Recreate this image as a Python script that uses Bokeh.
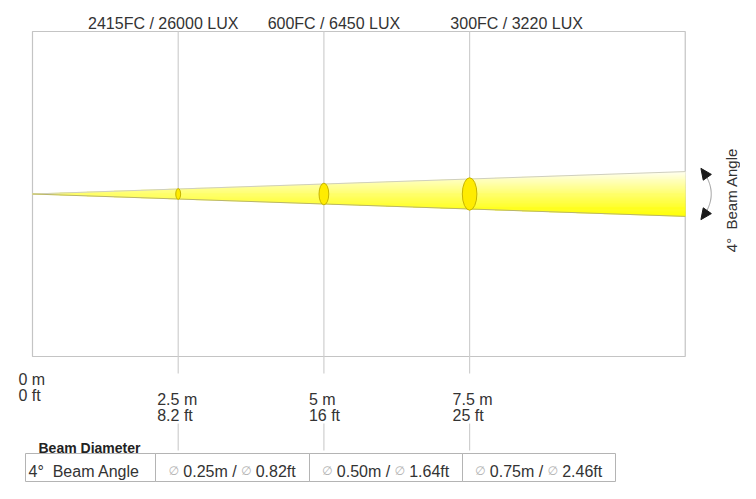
import math
import numpy as np
from bokeh.plotting import figure
from bokeh.models import Range1d
from bokeh.core.properties import value
from bokeh.embed import file_html
from bokeh.resources import INLINE

# ---------------- data ----------------
distances_m = [2.5, 5.0, 7.5]
label_dist = [0.0, 2.5, 5.0, 7.5]
labels_m = ["0 m", "2.5 m", "5 m", "7.5 m"]
labels_ft = ["0 ft", "8.2 ft", "16 ft", "25 ft"]
illuminance = ["2415FC / 26000 LUX", "600FC / 6450 LUX", "300FC / 3220 LUX"]
diam_m = [0.25, 0.50, 0.75]
diam_ft = [0.82, 1.64, 2.46]
beam_angle_deg = 4
max_dist = 11.2

# ---------------- layout (pixels) ----------------
W, H = 740, 483
X0, SX = 32.0, 58.28     # px of 0 m, px per metre (x)
Y0, SY = 193.5, 40.0     # px of beam axis, px per metre (y)
FONT = value("Liberation Sans")
TXT = "#333333"
NB = "\u00a0"


def dx(px):
    return (px - X0) / SX


def dy(py):
    return (Y0 - py) / SY


def xpx(d):
    return X0 + d * SX


p = figure(width=W, height=H, x_range=Range1d(dx(0), dx(W)), y_range=Range1d(dy(H), dy(0)),
           output_backend="svg", toolbar_location=None, min_border=0,
           x_axis_location=None, y_axis_location=None)
p.grid.visible = False
p.outline_line_color = None
p.background_fill_color = "white"
p.border_fill_color = "white"

# ---- chart box ----
box_top, box_bot = dy(31), dy(356)
p.quad(left=[0], right=[max_dist], top=[box_top], bottom=[box_bot],
       fill_color=None, line_color="#c4c4c4", line_width=1.2)

# ---- distance lines ----
p.segment(x0=distances_m, y0=[box_bot] * 3, x1=distances_m, y1=[box_top] * 3,
          line_color="#cfcfcf", line_width=1.2)
p.segment(x0=distances_m, y0=[dy(356)] * 3, x1=distances_m, y1=[dy(373)] * 3,
          line_color="#cfcfcf", line_width=1.2)
p.segment(x0=distances_m, y0=[dy(423)] * 3, x1=distances_m, y1=[dy(450)] * 3,
          line_color="#cfcfcf", line_width=1.2)

# ---- beam with vertical gradient ----
ratio = diam_m[-1] / distances_m[-1]
half = ratio * max_dist / 2.0
N = 48
edges = np.linspace(-half, half, N + 1)
bx, by, bc = [], [], []


def xe(y):
    return abs(y) / half * max_dist


for i in range(N):
    y0, y1 = edges[i], edges[i + 1]
    if y0 < 0 < y1:
        px_ = [xe(y0), max_dist, max_dist, xe(y1), 0.0]
        py_ = [y0, y0, y1, y1, 0.0]
    else:
        px_ = [xe(y0), max_dist, max_dist, xe(y1)]
        py_ = [y0, y0, y1, y1]
    t = (0.5 * (y0 + y1) + half) / (2 * half)
    b = int(round(240 * t ** 1.2))
    bx.append(px_)
    by.append(py_)
    bc.append(f"#ffff{b:02x}")
p.patches(xs=bx, ys=by, fill_color=bc, line_color=bc, line_width=0.6)
p.line([0, max_dist], [0, half], line_color="#cfcfbf", line_width=1)
p.line([0, max_dist], [0, -half], line_color="#b9b56e", line_width=1)

# ---- beam cross-section ellipses ----
p.ellipse(x=distances_m, y=[0] * 3, width=[d / 3.0 for d in diam_m],
          height=[d * 1.08 for d in diam_m], fill_color="#ffec00",
          line_color="#c7b400", line_width=1)

# ---- beam angle arrow ----
end_px = xpx(max_dist) + 18
bulge = 8
ts = np.linspace(-1, 1, 50)
arc_px = end_px + bulge * (1 - ts ** 2)
arc_py = Y0 - ts * half * SY
p.line([dx(v) for v in arc_px], [dy(v) for v in arc_py], line_color="#9a9a9a", line_width=1)
heads_x, heads_y = [], []
for tt in (1.0, -1.0):
    ex, ey = end_px, Y0 - tt * half * SY
    ux, uy = (-2 * bulge, -half * SY) if tt > 0 else (-2 * bulge, half * SY)
    n = math.hypot(ux, uy)
    ux, uy = ux / n, uy / n
    nx, ny = -uy, ux
    tip = (ex + ux * 4, ey + uy * 4)
    bc_ = (ex - ux * 7, ey - uy * 7)
    pts = [tip, (bc_[0] + nx * 5, bc_[1] + ny * 5), (bc_[0] - nx * 5, bc_[1] - ny * 5)]
    heads_x.append([dx(a) for a, _ in pts])
    heads_y.append([dy(b_) for _, b_ in pts])
p.patches(xs=heads_x, ys=heads_y, fill_color="#1a1a1a", line_color="#1a1a1a")

p.text(x=[dx(731)], y=[dy(199.5)], text=[f"{beam_angle_deg}°{NB} Beam Angle"],
       angle=math.pi / 2, text_align="center", text_baseline="middle", text_font=FONT,
       text_font_size="15px", text_color=TXT)

# ---- illuminance labels (top) ----
top_off = [-15, 10, 47]
p.text(x=[dx(xpx(d) + o) for d, o in zip(distances_m, top_off)], y=[dy(22.5)] * 3,
       text=illuminance, text_align="center", text_baseline="alphabetic",
       text_font=FONT, text_font_size="16px", text_color=TXT)

# ---- distance labels (bottom) ----
lab_off = [-14, -21, -15, -17]
lab_raise = [20, 0, 0, 0]
lx = [dx(xpx(d) + o) for d, o in zip(label_dist, lab_off)]
p.text(x=lx, y=[dy(398.5 - r) for r in lab_raise], text=labels_m, text_align="left",
       text_baseline="alphabetic", text_font=FONT, text_font_size="16px", text_color=TXT)
p.text(x=lx, y=[dy(414.5 - r) for r in lab_raise], text=labels_ft, text_align="left",
       text_baseline="alphabetic", text_font=FONT, text_font_size="16px", text_color=TXT)

# ---- Beam Diameter table ----
p.text(x=[dx(38)], y=[dy(447)], text=["Beam Diameter"], text_align="left",
       text_baseline="alphabetic", text_font=FONT, text_font_size="14px",
       text_font_style="bold", text_color="#222222")

col_edges = [25, 155, 309, 462, 615]
t_top, t_bot = 453, 481
p.quad(left=[dx(a) for a in col_edges[:-1]], right=[dx(b) for b in col_edges[1:]],
       top=[dy(t_top)] * 4, bottom=[dy(t_bot)] * 4, fill_color=None,
       line_color="#b4b4b4", line_width=1)

FS = 16
base_y = dy(471)
p.text(x=[dx(28)], y=[base_y], text=[f"{beam_angle_deg}°{NB} Beam Angle"], text_align="left",
       text_baseline="alphabetic", text_font=FONT, text_font_size=f"{FS}px", text_color=TXT)

AW = {c: 0.556 for c in "0123456789"}
AW.update({".": 0.278, " ": 0.278, NB: 0.278, "/": 0.278, "m": 0.833, "f": 0.278, "t": 0.278})


def tw(s):
    return sum(AW.get(c, 0.556) for c in s) * FS


SYM_W, GAP = 9.0, 5.0
sym_x, txt_x, txt_s = [], [], []
for j, (dm, df) in enumerate(zip(diam_m, diam_ft)):
    s1 = f"{dm:.2f}m{NB}/"
    s2 = f"{df:.2f}ft"
    total = 2 * (SYM_W + GAP) + tw(s1) + GAP + tw(s2)
    cx = 0.5 * (col_edges[j + 1] + col_edges[j + 2])
    x = cx - total / 2
    sym_x.append(dx(x + SYM_W / 2))
    x += SYM_W + GAP
    txt_x.append(dx(x)); txt_s.append(s1)
    x += tw(s1) + GAP
    sym_x.append(dx(x + SYM_W / 2))
    x += SYM_W + GAP
    txt_x.append(dx(x)); txt_s.append(s2)

p.text(x=sym_x, y=[dy(470)] * len(sym_x), text=["∅"] * len(sym_x), text_align="center",
       text_baseline="alphabetic", text_font=value("DejaVu Sans"), text_font_size="12px",
       text_color="#b4b4b4")
p.text(x=txt_x, y=[base_y] * len(txt_x), text=txt_s, text_align="left",
       text_baseline="alphabetic", text_font=FONT, text_font_size=f"{FS}px", text_color=TXT)

open("out.html", "w").write(file_html(p, INLINE))
